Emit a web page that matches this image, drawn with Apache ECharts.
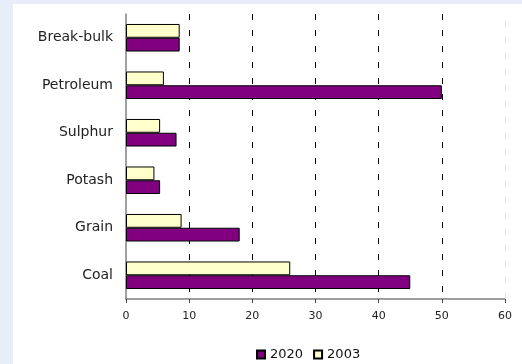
<!DOCTYPE html>
<html>
<head>
<meta charset="utf-8">
<script src="https://cdn.jsdelivr.net/npm/echarts@6/dist/echarts.min.js"></script>
<style>
  html, body { margin: 0; padding: 0; background: #e8eef9; }
  #chart { position: absolute; left: 13px; top: 4px; width: 509px; height: 360px; background: #fff; }
</style>
</head>
<body>
<div id="chart"></div>
<script>
  // categories, bottom to top
  var categories = ['Coal', 'Grain', 'Potash', 'Sulphur', 'Petroleum', 'Break-bulk'];
  var values2020 = [45, 18, 5.4, 8, 50, 8.5];
  var values2003 = [26, 8.8, 4.5, 5.4, 6, 8.5];
  var xTicks = [0, 10, 20, 30, 40, 50, 60];

  var chart = echarts.init(document.getElementById('chart'));
  chart.setOption({
    animation: false,
    textStyle: { fontFamily: 'DejaVu Sans' },
    grid: { left: 113, right: 17, top: 10, bottom: 65 },
    legend: {
      left: 243,
      top: 344,
      padding: 0,
      data: ['2020', '2003'],
      icon: 'rect',
      itemWidth: 8,
      itemHeight: 8,
      itemGap: 10,
      textStyle: { fontSize: 13, color: '#111' }
    },
    xAxis: {
      type: 'value',
      min: xTicks[0],
      max: xTicks[xTicks.length - 1],
      interval: 10,
      axisLine: { show: true, lineStyle: { color: '#808080', width: 1.5 } },
      axisTick: { show: true, length: 4, lineStyle: { color: '#404040' } },
      axisLabel: { fontSize: 11, color: '#222', margin: 12 },
      splitLine: {
        show: true,
        showMinLine: false,
        showMaxLine: false,
        lineStyle: { color: '#000', type: [6, 10], width: 1 }
      }
    },
    yAxis: {
      type: 'category',
      data: categories,
      axisLine: { show: true, lineStyle: { color: '#808080', width: 1.5 } },
      axisTick: { show: false },
      axisLabel: { fontSize: 14, color: '#222', margin: 13 }
    },
    series: [
      {
        name: '2003',
        type: 'bar',
        data: values2003,
        barGap: 0,
        barCategoryGap: '42%',
        itemStyle: { color: '#ffffcc', borderColor: '#000', borderWidth: 1 },
        markLine: {
          silent: true,
          symbol: 'none',
          label: { show: false },
          lineStyle: { color: '#e4e4e4', type: [6, 10], width: 1 },
          data: [{ xAxis: xTicks[xTicks.length - 1] }]
        }
      },
      {
        name: '2020',
        type: 'bar',
        data: values2020,
        barGap: 0,
        barCategoryGap: '42%',
        itemStyle: { color: '#800080', borderColor: '#000', borderWidth: 1 }
      }
    ]
  });
</script>
</body>
</html>
